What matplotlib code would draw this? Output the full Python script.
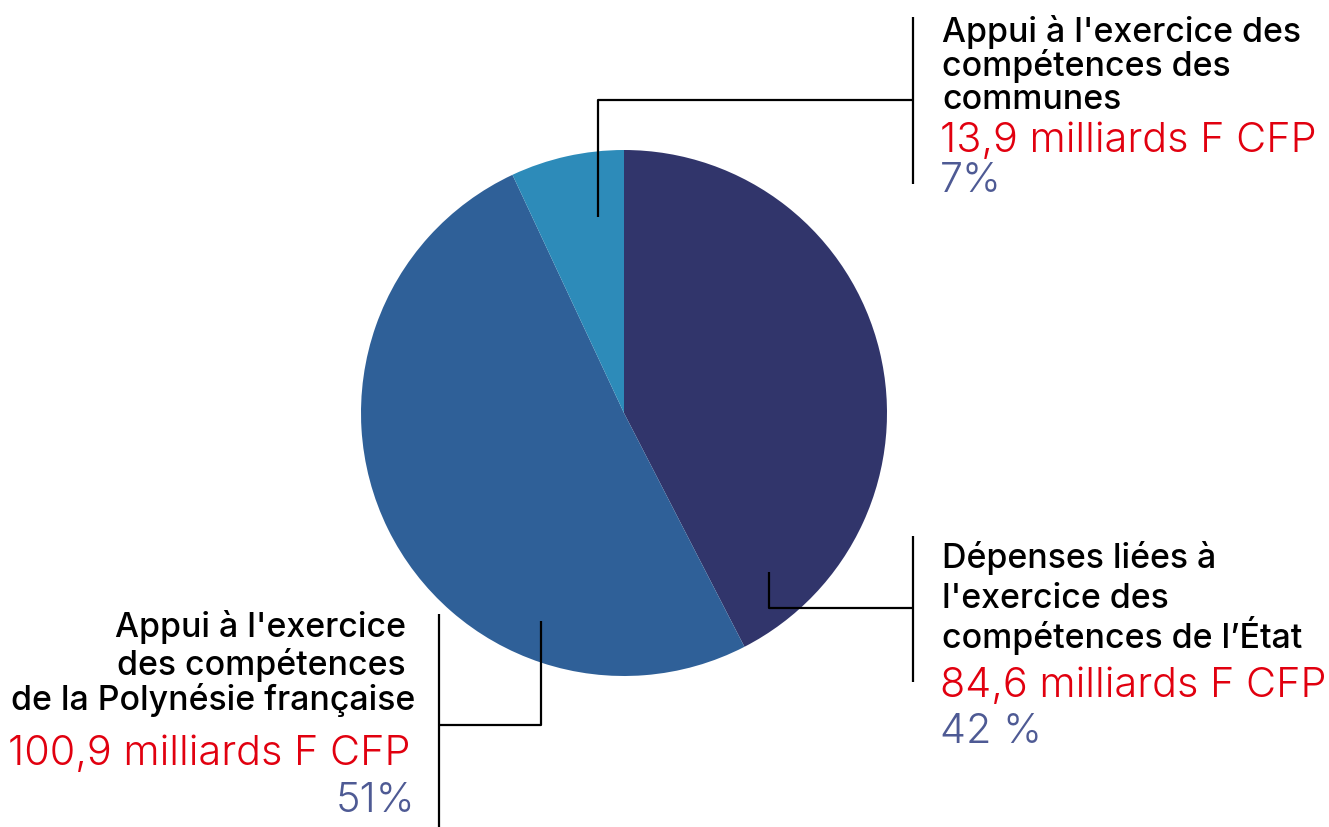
import matplotlib.pyplot as plt

plt.rcParams['font.family'] = ['Inter', 'DejaVu Sans']

# données
labels = ["Dépenses liées à l'exercice des compétences de l'État",
          "Appui à l'exercice des compétences de la Polynésie française",
          "Appui à l'exercice des compétences des communes"]
values = [84.6, 100.9, 13.9]
amounts = ['84,6 milliards F CFP', '100,9 milliards F CFP', '13,9 milliards F CFP']
percents = ['42 %', '51%', '7%']
colors = ['#31356b', '#2f6098', '#2d8bb9']

W, H = 1329, 828
fig = plt.figure(figsize=(W / 100, H / 100), dpi=100)
ax = fig.add_axes([0, 0, 1, 1])

ax.pie(values, colors=colors, startangle=90, counterclock=False,
       center=(624, H - 414), radius=263, wedgeprops={'linewidth': 0})
ax.set_xlim(0, W)
ax.set_ylim(0, H)
ax.set_aspect('equal')
ax.axis('off')

def Y(y):
    return H - y

black = '#000000'
red = '#e1000f'
blue = '#4e5a94'
fs_t = 24.4
fs_v = 29.8

def line(xs, ys):
    ax.plot(xs, [Y(v) for v in ys], color='black', lw=1.6, solid_capstyle='butt')

# communes
line([598, 598, 913], [218, 101, 101])
line([913, 913], [18, 185])
for t, yb in zip(["Appui à l'exercice des", 'compétences des', 'communes'], [42, 76, 109]):
    ax.text(942, Y(yb), t, fontsize=fs_t, color=black, va='baseline', ha='left', fontweight=500)
ax.text(940, Y(152), amounts[2], fontsize=fs_v, color=red, va='baseline', ha='left', fontweight=300)
ax.text(940, Y(192), percents[2], fontsize=fs_v, color=blue, va='baseline', ha='left', fontweight=300)

# État
line([769, 769, 913], [573, 609, 609])
line([913, 913], [537, 683])
for t, yb in zip(['Dépenses liées à', "l'exercice des", 'compétences de l’État'], [568, 608, 648]):
    ax.text(942, Y(yb), t, fontsize=fs_t, color=black, va='baseline', ha='left', fontweight=500)
ax.text(940, Y(697), amounts[0], fontsize=fs_v, color=red, va='baseline', ha='left', fontweight=300)
ax.text(940, Y(743), percents[0], fontsize=fs_v, color=blue, va='baseline', ha='left', fontweight=300)

# Polynésie
line([541, 541, 439], [622, 726, 726])
line([439, 439], [615, 828])
for t, yb, xr in zip(["Appui à l'exercice", 'des compétences', 'de la Polynésie française'],
                     [637, 675, 710], [406, 406, 415]):
    ax.text(xr, Y(yb), t, fontsize=fs_t, color=black, va='baseline', ha='right', fontweight=500)
ax.text(411, Y(765), amounts[1], fontsize=fs_v, color=red, va='baseline', ha='right', fontweight=300)
ax.text(415, Y(812), percents[1], fontsize=fs_v, color=blue, va='baseline', ha='right', fontweight=300)

fig.savefig('out.png', dpi=100)
